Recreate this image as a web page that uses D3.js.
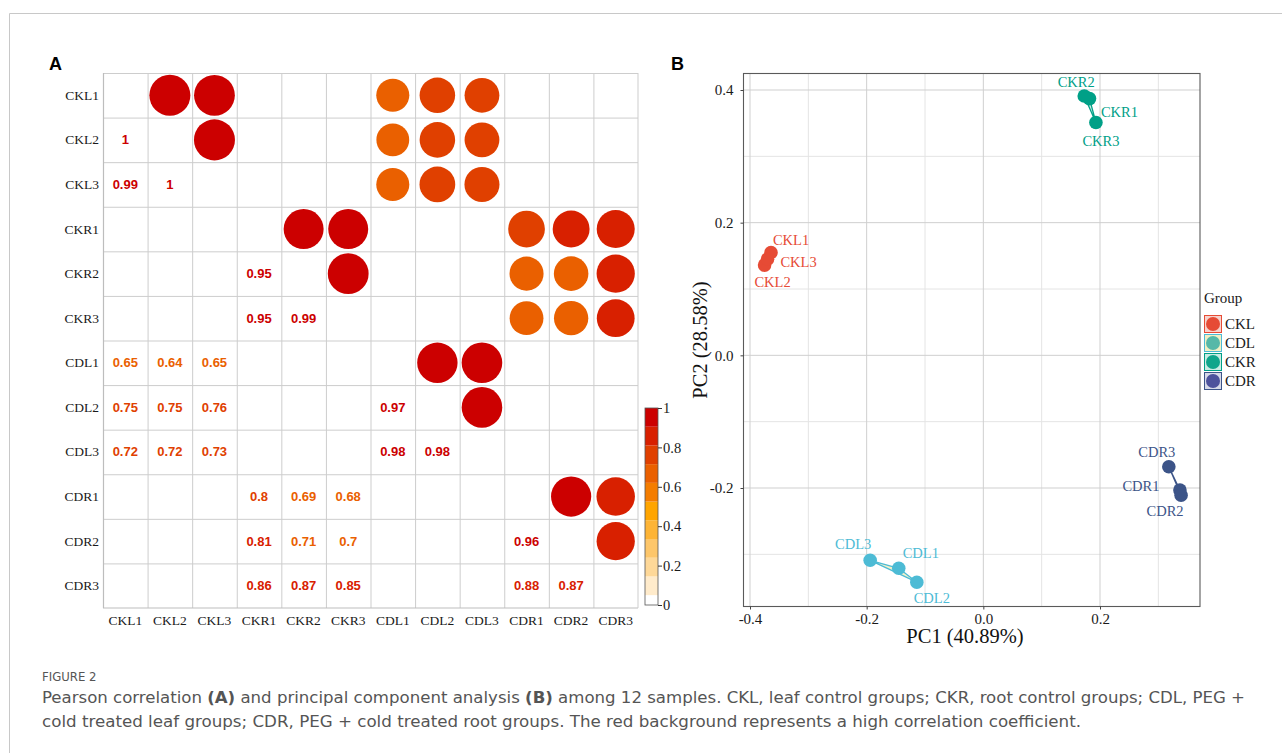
<!DOCTYPE html>
<html><head><meta charset="utf-8">
<script src="https://cdn.jsdelivr.net/npm/d3@7"></script>
<style>
html,body{margin:0;padding:0;background:#fff;}
svg{display:block;}
</style></head>
<body>
<svg id="chart" width="1282" height="753"></svg>
<script>
// ---------------- DATA ----------------
const samples = ["CKL1","CKL2","CKL3","CKR1","CKR2","CKR3","CDL1","CDL2","CDL3","CDR1","CDR2","CDR3"];
// lower triangle of the Pearson correlation matrix (null = not shown)
const corrLower = [
  [],
  [1],
  [0.99, 1],
  [null, null, null],
  [null, null, null, 0.95],
  [null, null, null, 0.95, 0.99],
  [0.65, 0.64, 0.65, null, null, null],
  [0.75, 0.75, 0.76, null, null, null, 0.97],
  [0.72, 0.72, 0.73, null, null, null, 0.98, 0.98],
  [null, null, null, 0.8, 0.69, 0.68, null, null, null],
  [null, null, null, 0.81, 0.71, 0.7, null, null, null, 0.96],
  [null, null, null, 0.86, 0.87, 0.85, null, null, null, 0.88, 0.87]
];
const colorBreaks = [0.05, 0.145, 0.24, 0.335, 0.43, 0.525, 0.62, 0.715, 0.81, 0.905];
const colorBands = ["#ffffff","#ffebcb","#fed898","#fdc66a","#fdb436","#ffa500","#f47d00","#ea6000","#e04000","#d82000","#cc0000"];
const colorbarTicks = [0, 0.2, 0.4, 0.6, 0.8, 1];

const pcaNames = ["CKL1","CKL2","CKL3","CKR1","CKR2","CKR3","CDL1","CDL2","CDL3","CDR1","CDR2","CDR3"];
const pc1 = [-0.364, -0.375, -0.370, 0.182, 0.173, 0.193, -0.145, -0.114, -0.194, 0.337, 0.339, 0.318];
const pc2 = [0.155, 0.136, 0.145, 0.387, 0.391, 0.351, -0.321, -0.342, -0.309, -0.203, -0.211, -0.168];
const pcaGroup = ["CKL","CKL","CKL","CKR","CKR","CKR","CDL","CDL","CDL","CDR","CDR","CDR"];
const groups = ["CKL","CDL","CKR","CDR"];
const xTicks = [-0.4, -0.2, 0.0, 0.2];
const yTicks = [-0.2, 0.0, 0.2, 0.4];
const xMinor = [-0.3, -0.1, 0.1, 0.3];
const yMinor = [-0.3, -0.1, 0.1, 0.3];

// ---------------- STYLE ----------------
const groupColor = {CKL:"#e64b35", CDL:"#4dbbd5", CKR:"#00a087", CDR:"#3c5488"};
const groupFill = {CKL:"#f7d2cc", CDL:"#f2efc4", CKR:"#c9ebe3", CDR:"#d6d9e8"};
const legendDot = {CKL:"#e64b35", CDL:"#56b8a8", CKR:"#0fa58b", CDR:"#4d529c"};
// label offsets (px) for sample names in PCA
const labelOff = {
  CKL1:[20,-13], CKL2:[8,17], CKL3:[31,3],
  CKR1:[30,13], CKR2:[-8,-14], CKR3:[5,18],
  CDL1:[22,-15], CDL2:[15,16], CDL3:[-17,-16],
  CDR1:[-39,-4], CDR2:[-16,16], CDR3:[-12,-15]
};

const svg = d3.select("#chart");
const serif = "Liberation Serif, Times New Roman, serif";
const sans = "Liberation Sans, Arial, sans-serif";

// outer frame
svg.append("path").attr("d","M9.5,760 L9.5,13.5 L1290,13.5").attr("fill","none").attr("stroke","#c8c8c8").attr("stroke-width",1);

// ---------------- PANEL A ----------------
svg.append("text").attr("x",49).attr("y",70).attr("font-family",sans).attr("font-weight","bold").attr("font-size",18).text("A");

const mx0 = 103, my0 = 73, mSize = 535;
const band = d3.scaleBand().domain(samples).range([0, mSize]);
const cell = band.bandwidth();
const gA = svg.append("g").attr("transform",`translate(${mx0},${my0})`);
const colorScale = d3.scaleThreshold().domain(colorBreaks).range(colorBands);
const rScale = d3.scaleSqrt().domain([0,1]).range([0, cell*0.46]);

// grid
samples.forEach((s,i)=>{
  gA.append("line").attr("x1",0).attr("x2",mSize).attr("y1",i*cell+0.5).attr("y2",i*cell+0.5).attr("stroke","#cdcdcd");
  gA.append("line").attr("y1",0).attr("y2",mSize).attr("x1",i*cell+0.5).attr("x2",i*cell+0.5).attr("stroke","#cdcdcd");
});
gA.append("line").attr("x1",0).attr("x2",mSize).attr("y1",mSize).attr("y2",mSize).attr("stroke","#bdbdbd").attr("stroke-width",1.2);
gA.append("line").attr("x1",mSize).attr("x2",mSize).attr("y1",0).attr("y2",mSize).attr("stroke","#cdcdcd");
gA.append("line").attr("x1",0.5).attr("x2",0.5).attr("y1",0).attr("y2",mSize).attr("stroke","#bdbdbd").attr("stroke-width",1.2);

const cells = [];
corrLower.forEach((row,i)=>row.forEach((v,j)=>{ if(v!==null) cells.push({i,j,v}); }));

// numbers in lower triangle
gA.selectAll("text.val").data(cells).join("text").attr("class","val")
  .attr("x",d=>band(samples[d.j])+cell/2).attr("y",d=>band(samples[d.i])+cell/2)
  .attr("text-anchor","middle").attr("dominant-baseline","central")
  .attr("font-family",sans).attr("font-weight","bold").attr("font-size",13)
  .attr("fill",d=>colorScale(d.v)).text(d=>d3.format("~g")(d.v));
// circles in upper triangle
gA.selectAll("circle.c").data(cells).join("circle").attr("class","c")
  .attr("cx",d=>band(samples[d.i])+cell/2).attr("cy",d=>band(samples[d.j])+cell/2)
  .attr("r",d=>rScale(Math.abs(d.v))).attr("fill",d=>colorScale(d.v));

// labels
gA.selectAll("text.rl").data(samples).join("text").attr("class","rl")
  .attr("x",-4).attr("y",d=>band(d)+cell/2).attr("text-anchor","end").attr("dominant-baseline","central")
  .attr("font-family",serif).attr("font-size",13.5).attr("fill","#1a1a1a").text(d=>d);
gA.selectAll("text.cl").data(samples).join("text").attr("class","cl")
  .attr("x",d=>band(d)+cell/2).attr("y",mSize+17).attr("text-anchor","middle")
  .attr("font-family",serif).attr("font-size",13.5).attr("fill","#1a1a1a").text(d=>d);

// colorbar
const cbX = 645, cbW = 13;
const cbScale = d3.scaleLinear().domain([0,1]).range([605, 408]);
const edges = [0, ...colorBreaks, 1];
colorBands.forEach((c,k)=>{
  svg.append("rect").attr("x",cbX).attr("width",cbW)
    .attr("y",cbScale(edges[k+1])).attr("height",cbScale(edges[k])-cbScale(edges[k+1]))
    .attr("fill",c);
});
svg.append("rect").attr("x",cbX).attr("y",cbScale(1)).attr("width",cbW).attr("height",cbScale(0)-cbScale(1))
  .attr("fill","none").attr("stroke","#555").attr("stroke-width",0.8);
const cbAxis = d3.axisRight(cbScale).tickValues(colorbarTicks).tickSize(4).tickFormat(d3.format("~g"));
const cbG = svg.append("g").attr("transform",`translate(${cbX+cbW},0)`).call(cbAxis)
  .attr("font-family",serif).attr("font-size",14.5);
cbG.select(".domain").remove();
cbG.selectAll(".tick line").attr("stroke","#333");
cbG.selectAll(".tick text").attr("fill","#1a1a1a").attr("x",5);

// ---------------- PANEL B ----------------
svg.append("text").attr("x",671).attr("y",70).attr("font-family",sans).attr("font-weight","bold").attr("font-size",18).text("B");

const px0 = 743.5, px1 = 1200, py0 = 73, py1 = 606;
const xS = d3.scaleLinear().domain([-0.4, 0.2]).range([750, 1100]);
const yS = d3.scaleLinear().domain([-0.2, 0.4]).range([488, 90]);
const gB = svg.append("g");
xMinor.forEach(v=>gB.append("line").attr("x1",xS(v)).attr("x2",xS(v)).attr("y1",py0).attr("y2",py1).attr("stroke","#e4e4e4"));
yMinor.forEach(v=>gB.append("line").attr("y1",yS(v)).attr("y2",yS(v)).attr("x1",px0).attr("x2",px1).attr("stroke","#e4e4e4"));
xTicks.forEach(v=>gB.append("line").attr("x1",xS(v)).attr("x2",xS(v)).attr("y1",py0).attr("y2",py1).attr("stroke","#cfcfcf"));
yTicks.forEach(v=>gB.append("line").attr("y1",yS(v)).attr("y2",yS(v)).attr("x1",px0).attr("x2",px1).attr("stroke","#cfcfcf"));

const pts = pcaNames.map((n,k)=>({name:n, x:xS(pc1[k]), y:yS(pc2[k]), g:pcaGroup[k]}));
// group polygons
groups.forEach(g=>{
  const gp = pts.filter(p=>p.g===g).map(p=>[p.x,p.y]);
  const hull = d3.polygonHull(gp) || gp;
  gB.append("path").attr("d","M"+hull.map(p=>p.join(",")).join("L")+"Z")
    .attr("fill",groupFill[g]).attr("fill-opacity",0.9)
    .attr("stroke",groupColor[g]).attr("stroke-width",1.3).attr("stroke-linejoin","round");
});
gB.selectAll("circle.p").data(pts).join("circle").attr("class","p")
  .attr("cx",d=>d.x).attr("cy",d=>d.y).attr("r",6.8).attr("fill",d=>groupColor[d.g]);
gB.selectAll("text.pl").data(pts).join("text").attr("class","pl")
  .attr("x",d=>d.x+labelOff[d.name][0]).attr("y",d=>d.y+labelOff[d.name][1])
  .attr("text-anchor","middle").attr("dominant-baseline","central")
  .attr("font-family",serif).attr("font-size",14.5).attr("fill",d=>groupColor[d.g]).text(d=>d.name);

// border
gB.append("rect").attr("x",px0).attr("y",py0+0.5).attr("width",px1-px0).attr("height",py1-py0)
  .attr("fill","none").attr("stroke","#5a5a5a").attr("stroke-width",1.1);

// axes
const fmt = v=>d3.format(".1f")(v).replace("\u2212","-");
const xAx = svg.append("g").attr("transform",`translate(0,${py1+0.5})`)
  .call(d3.axisBottom(xS).tickValues(xTicks).tickSize(3).tickFormat(fmt))
  .attr("font-family",serif).attr("font-size",15);
const yAx = svg.append("g").attr("transform",`translate(${px0},0)`)
  .call(d3.axisLeft(yS).tickValues(yTicks).tickSize(3).tickFormat(fmt))
  .attr("font-family",serif).attr("font-size",15);
[xAx,yAx].forEach(a=>{
  a.select(".domain").remove();
  a.selectAll(".tick line").attr("stroke","#444");
  a.selectAll(".tick text").attr("fill","#1a1a1a");
});
xAx.selectAll(".tick text").attr("y",7);
yAx.selectAll(".tick text").attr("x",-10);

svg.append("text").attr("x",965).attr("y",643).attr("text-anchor","middle")
  .attr("font-family",serif).attr("font-size",20.5).attr("fill","#111").text("PC1 (40.89%)");
svg.append("text").attr("transform","translate(707,340) rotate(-90)").attr("text-anchor","middle")
  .attr("font-family",serif).attr("font-size",20.5).attr("fill","#111").text("PC2 (28.58%)");

// legend
const lg = svg.append("g").attr("transform","translate(1204,0)");
lg.append("text").attr("x",0).attr("y",303).attr("font-family",serif).attr("font-size",15).attr("fill","#1a1a1a").text("Group");
groups.forEach((g,k)=>{
  const y = 315 + k*19;
  lg.append("rect").attr("x",0.5).attr("y",y+0.5).attr("width",17).attr("height",17)
    .attr("fill",groupFill[g]).attr("stroke",groupColor[g]).attr("stroke-width",1);
  lg.append("circle").attr("cx",9).attr("cy",y+9).attr("r",7).attr("fill",legendDot[g]);
  lg.append("text").attr("x",21).attr("y",y+9).attr("dominant-baseline","central")
    .attr("font-family",serif).attr("font-size",15).attr("fill","#1a1a1a").text(g);
});

// ---------------- CAPTION ----------------
const capFont = "Liberation Sans Narrow, DejaVu Sans Condensed, Roboto, sans-serif";
svg.append("text").attr("x",42).attr("y",681).attr("font-family",capFont).attr("font-size",13)
  .attr("fill","#555").text("FIGURE 2");
const line1 = svg.append("text").attr("x",42).attr("y",703).attr("font-family",capFont).attr("font-size",16.5)
  .attr("fill","#555").attr("textLength",1203).attr("lengthAdjust","spacingAndGlyphs");
line1.append("tspan").text("Pearson correlation ");
line1.append("tspan").attr("font-weight","bold").text("(A)");
line1.append("tspan").text(" and principal component analysis ");
line1.append("tspan").attr("font-weight","bold").text("(B)");
line1.append("tspan").text(" among 12 samples. CKL, leaf control groups; CKR, root control groups; CDL, PEG +");
svg.append("text").attr("x",42).attr("y",727).attr("font-family",capFont).attr("font-size",16.5)
  .attr("fill","#555").attr("textLength",1039).attr("lengthAdjust","spacingAndGlyphs")
  .text("cold treated leaf groups; CDR, PEG + cold treated root groups. The red background represents a high correlation coefficient.");
</script>
</body></html>
